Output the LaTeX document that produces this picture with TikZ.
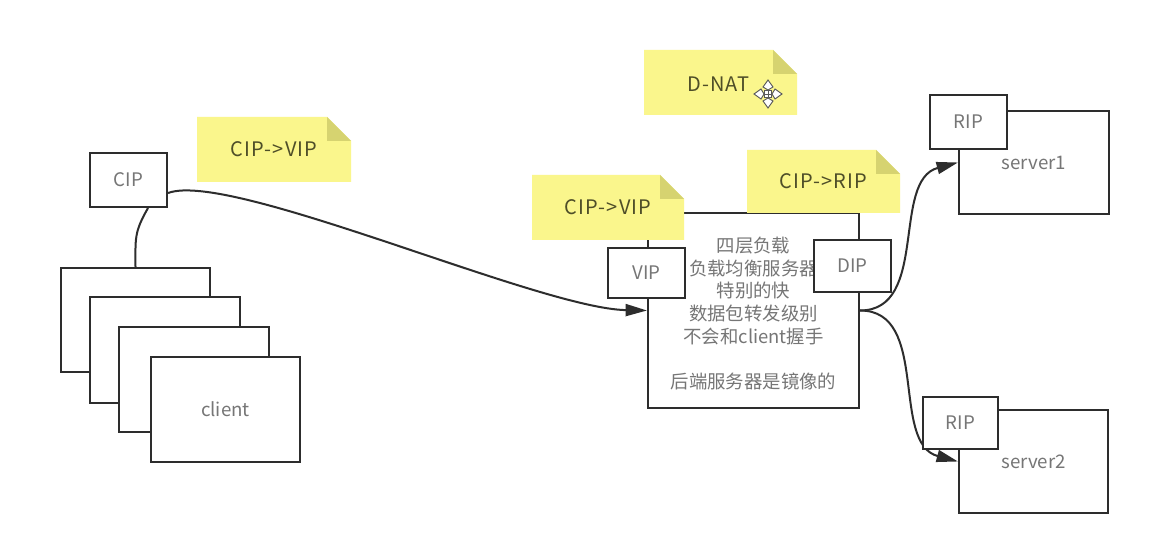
\documentclass[tikz,border=0pt]{standalone}
\usepackage{fontspec}
\setmainfont{Noto Sans CJK SC}
\usetikzlibrary{arrows.meta,calc,backgrounds}
\definecolor{notefill}{RGB}{250,246,140}
\definecolor{notefold}{RGB}{214,211,112}
\definecolor{notetext}{RGB}{78,78,40}
\definecolor{boxtext}{RGB}{118,118,118}
\definecolor{edge}{RGB}{45,45,45}
\pgfdeclarelayer{paper}
\pgfsetlayers{paper,background,main}
\newcommand\stickynote[5]{%
  \fill[notefill] (#1,#2) -- ({#3-24},#2) -- (#3,{#2+24}) -- (#3,#4) -- (#1,#4) -- cycle;
  \fill[notefold] ({#3-24},#2) -- (#3,{#2+24}) -- ({#3-24},{#2+24}) -- cycle;
  \node[notetxt] (#5) at ({(#1+#3)/2},{(#2+#4)/2}) {};
}
\begin{document}
\begin{tikzpicture}[x=0.75pt,y=-0.75pt,
  wh/.style 2 args={minimum width=#1*0.75pt, minimum height=#2*0.75pt},
  box/.style={draw=edge,line width=1.6pt,fill=white,inner sep=0pt,
    font=\fontsize{14}{17}\selectfont,text=boxtext},
  lbl/.style={font=\fontsize{13.8}{17}\selectfont,text=boxtext,align=center},
  conn/.style={draw=edge,line width=1.5pt},
  arr/.style={conn,-{Triangle[length=16pt,width=9pt]}},
  notetxt/.style={font=\addfontfeature{LetterSpace=6}\fontsize{15}{18}\selectfont,text=notetext,inner sep=0pt}]
\begin{pgfonlayer}{paper}
\fill[white] (0,0) rectangle (1160,548);
\end{pgfonlayer}
\useasboundingbox (0,0) rectangle (1160,548);

% client stack
\node[box,wh={149}{104}] (c1) at (135.5,320) {};
\node[box,wh={150}{106}] (c2) at (165,350) {};
\node[box,wh={150}{105}] (c3) at (194,379.5) {};
\node[box,wh={149}{105}] (c4) at (225.5,409.5) {client};
\node[box,wh={77}{54}] (CIP) at (128.5,180) {CIP};

% load balancer
\node[box,wh={211}{195}] (main) at (753.5,310.5) {};
\node[lbl] (lbtext) at ($(main.center)+(0,3)$) {四层负载\\负载均衡服务器\\特别的快\\数据包转发级别\\不会和client握手\\[17pt]后端服务器是镜像的};
\node[box,wh={77}{50}] (VIP) at (646.5,273) {VIP};
\node[box,wh={77}{52}] (DIP) at (852.5,266) {DIP};

% servers
\node[box,wh={150}{103}] (server1) at (1034,162.5) {server1};
\node[box,wh={77}{54}] (RIP1) at (968.5,122) {RIP};
\node[box,wh={149}{103}] (server2) at (1033.5,461.5) {server2};
\node[box,wh={75}{52}] (RIP2) at (960.5,423) {RIP};

% sticky notes
\stickynote{197}{117}{351}{182}{n1}
\node[notetxt] at (n1) {CIP->VIP};
\stickynote{644}{50}{797}{115}{nD}
\node[notetxt] at ($(nD)+(-2,2)$) {D-NAT};
\stickynote{532}{175}{684}{240}{n2}
\node[notetxt] at (n2) {CIP->VIP};
\stickynote{747}{150}{900}{213}{n3}
\node[notetxt] at (n3) {CIP->RIP};

% move icon
\begin{scope}[shift={(768,94)},draw=black!65,fill=white,line width=0.7pt]
  \foreach \a in {0,90,180,270}{
    \filldraw[rotate=\a] (0,-4) -- (-5,-7) -- (0,-14) -- (5,-7) -- cycle;
  }
  \filldraw (-3.5,-3.5) rectangle (3.5,3.5);
  \draw (-3.5,0) -- (3.5,0) (0,-3.5) -- (0,3.5);
\end{scope}

% connectors
\begin{pgfonlayer}{background}
\draw[conn] ($(CIP.south)+(19.5,0)$) to[out=240,in=90,looseness=1.2] (c1.north);
\draw[arr] ($(CIP.east)+(0,13)$) .. controls +(62,-23) and +(-108,-2) .. (main.west);
\draw[arr] (main.east) to[out=0,in=195] (server1.west);
\draw[arr] (main.east) to[out=0,in=165] (server2.west);
\end{pgfonlayer}
\end{tikzpicture}
\end{document}
